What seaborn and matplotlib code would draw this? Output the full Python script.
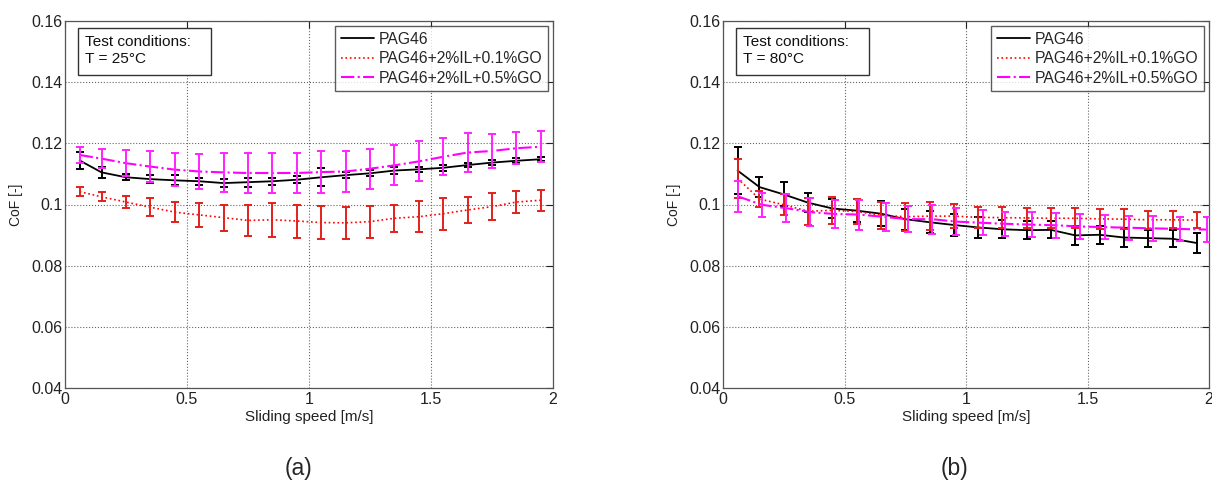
import matplotlib
matplotlib.use("Agg")
import matplotlib.pyplot as plt
from matplotlib.patches import Rectangle
import seaborn as sns
import pandas as pd

# ---------------- data ----------------
speed = [0.06, 0.15, 0.25, 0.35, 0.45, 0.55, 0.65, 0.75, 0.85, 0.95,
         1.05, 1.15, 1.25, 1.35, 1.45, 1.55, 1.65, 1.75, 1.85, 1.95]
speed_b_go05 = [0.06, 0.16, 0.26, 0.36, 0.46, 0.56, 0.67, 0.76, 0.86, 0.96,
                1.07, 1.16, 1.27, 1.37, 1.47, 1.57, 1.67, 1.77, 1.88, 1.99]

series_names = ["PAG46", "PAG46+2%IL+0.1%GO", "PAG46+2%IL+0.5%GO"]

# (a) T = 25 C
a_pag = [0.1144, 0.1105, 0.1089, 0.1083, 0.1079, 0.1076, 0.1070, 0.1073, 0.1076, 0.1081,
         0.1089, 0.1096, 0.1102, 0.1111, 0.1115, 0.1120, 0.1129, 0.1137, 0.1143, 0.1148]
a_pag_err = [0.0027, 0.0018, 0.0010, 0.0012, 0.0016, 0.0011, 0.0012, 0.0015, 0.0011, 0.0012,
             0.0030, 0.0010, 0.0010, 0.0010, 0.0008, 0.0009, 0.0008, 0.0008, 0.0008, 0.0007]
a_go01 = [0.1042, 0.1025, 0.1008, 0.0991, 0.0975, 0.0966, 0.0957, 0.0948, 0.0950, 0.0946,
          0.0941, 0.0940, 0.0944, 0.0955, 0.0960, 0.0970, 0.0982, 0.0993, 0.1008, 0.1014]
a_go01_err = [0.0015, 0.0015, 0.0019, 0.0029, 0.0032, 0.0039, 0.0043, 0.0052, 0.0055, 0.0054,
              0.0054, 0.0053, 0.0052, 0.0045, 0.0051, 0.0052, 0.0044, 0.0044, 0.0037, 0.0034]
a_go05 = [0.1162, 0.1150, 0.1135, 0.1124, 0.1114, 0.1108, 0.1105, 0.1103, 0.1103, 0.1103,
          0.1106, 0.1108, 0.1117, 0.1128, 0.1141, 0.1156, 0.1170, 0.1175, 0.1184, 0.1189]
a_go05_err = [0.0027, 0.0032, 0.0043, 0.0050, 0.0054, 0.0057, 0.0063, 0.0065, 0.0064, 0.0065,
              0.0070, 0.0067, 0.0065, 0.0065, 0.0065, 0.0060, 0.0063, 0.0056, 0.0052, 0.0051]

# (b) T = 80 C
b_pag = [0.1111, 0.1057, 0.1033, 0.1006, 0.0987, 0.0980, 0.0970, 0.0952, 0.0942, 0.0933,
         0.0925, 0.0919, 0.0916, 0.0917, 0.0899, 0.0901, 0.0892, 0.0890, 0.0888, 0.0874]
b_pag_err = [0.0077, 0.0034, 0.0039, 0.0032, 0.0030, 0.0037, 0.0040, 0.0034, 0.0036, 0.0037,
             0.0035, 0.0030, 0.0030, 0.0028, 0.0030, 0.0030, 0.0030, 0.0028, 0.0028, 0.0034]
b_go01 = [0.1085, 0.1018, 0.0999, 0.0978, 0.0981, 0.0977, 0.0965, 0.0960, 0.0962, 0.0962,
          0.0958, 0.0957, 0.0956, 0.0955, 0.0955, 0.0953, 0.0952, 0.0950, 0.0950, 0.0949]
b_go01_err = [0.0065, 0.0025, 0.0034, 0.0044, 0.0044, 0.0042, 0.0044, 0.0046, 0.0045, 0.0040,
              0.0034, 0.0034, 0.0034, 0.0033, 0.0033, 0.0032, 0.0032, 0.0030, 0.0028, 0.0026]
b_go05 = [0.1027, 0.0999, 0.0988, 0.0975, 0.0969, 0.0967, 0.0959, 0.0952, 0.0952, 0.0944,
          0.0940, 0.0937, 0.0934, 0.0932, 0.0928, 0.0926, 0.0924, 0.0922, 0.0920, 0.0918]
b_go05_err = [0.0050, 0.0040, 0.0045, 0.0045, 0.0047, 0.0049, 0.0046, 0.0043, 0.0047, 0.0045,
              0.0041, 0.0040, 0.0040, 0.0040, 0.0040, 0.0040, 0.0040, 0.0040, 0.0040, 0.0040]

y_ticks = [0.04, 0.06, 0.08, 0.10, 0.12, 0.14, 0.16]
y_ticklabels = ["0.04", "0.06", "0.08", "0.1", "0.12", "0.14", "0.16"]
x_ticks = [0, 0.5, 1, 1.5, 2]
x_ticklabels = ["0", "0.5", "1", "1.5", "2"]

panel_texts = ["Test conditions:\nT = 25\u00b0C", "Test conditions:\nT = 80\u00b0C"]
captions = ["(a)", "(b)"]

# ---------------- style ----------------
sns.set_style("white")
plt.rcParams["font.family"] = ["Liberation Sans", "DejaVu Sans"]

colors = ["black", "#ff0000", "#ff00ff"]
styles = ["-", ":", "-."]
widths = [1.3, 1.2, 1.5]
err_colors = ["black", "#e3201b", "#ff22ff"]

fig = plt.figure(figsize=(12.12, 4.83), dpi=100)
ax_a = fig.add_axes([65 / 1212, 95 / 483, 488 / 1212, 367 / 483])
ax_b = fig.add_axes([723 / 1212, 95 / 483, 486 / 1212, 367 / 483])

panels = [
    (ax_a, [speed, speed, speed], [a_pag, a_go01, a_go05], [a_pag_err, a_go01_err, a_go05_err]),
    (ax_b, [speed, speed, speed_b_go05], [b_pag, b_go01, b_go05], [b_pag_err, b_go01_err, b_go05_err]),
]

for i, (ax, xs, ys, es) in enumerate(panels):
    for k in range(3):
        df = pd.DataFrame({"speed": xs[k], "cof": ys[k]})
        sns.lineplot(data=df, x="speed", y="cof", ax=ax, color=colors[k],
                     linestyle=styles[k], linewidth=widths[k], label=series_names[k],
                     zorder=3 + k)
        ax.errorbar(xs[k], ys[k], yerr=es[k], fmt="none", ecolor=err_colors[k],
                    elinewidth=1.4, capsize=3.0, capthick=1.4, zorder=3 + k)

    ax.set_xlim(0, 2)
    ax.set_ylim(0.04, 0.16)
    ax.set_xticks(x_ticks)
    ax.set_xticklabels(x_ticklabels)
    ax.set_yticks(y_ticks)
    ax.set_yticklabels(y_ticklabels)
    ax.tick_params(direction="in", top=True, right=True, length=5, width=0.8,
                   labelsize=11.5, colors="#222222")
    ax.tick_params(axis="y", pad=2)
    ax.tick_params(axis="x", pad=3)
    ax.grid(True, linestyle=":", color="#666666", linewidth=0.8)
    for sp in ax.spines.values():
        sp.set_color("#555555")
        sp.set_linewidth(0.9)
    ax.set_xlabel("Sliding speed [m/s]", fontsize=11, color="#222222", labelpad=2)
    ax.set_ylabel("CoF [-]", fontsize=10, color="#222222", labelpad=6)

    leg = ax.legend(loc="upper right", fontsize=11.3, handlelength=2.1,
                    frameon=True, fancybox=False, borderaxespad=0.35,
                    borderpad=0.35, labelspacing=0.28, handletextpad=0.3)
    leg.get_frame().set_edgecolor("#333333")
    leg.get_frame().set_linewidth(1.0)

    # annotation box (MATLAB-style text box)
    ax.add_patch(Rectangle((0.0266, 0.853), 0.273, 0.128, transform=ax.transAxes,
                           facecolor="white", edgecolor="#333333", linewidth=1.0,
                           zorder=9, clip_on=False))
    ax.text(0.041, 0.962, panel_texts[i], transform=ax.transAxes, ha="left", va="top",
            fontsize=11.1, color="#111111", linespacing=1.3, zorder=10)

fig.text(298 / 1212, 1 - 469 / 483, captions[0], ha="center", va="center", fontsize=16.5)
fig.text(954 / 1212, 1 - 469 / 483, captions[1], ha="center", va="center", fontsize=16.5)

fig.savefig("out.png", dpi=100, facecolor="white")
